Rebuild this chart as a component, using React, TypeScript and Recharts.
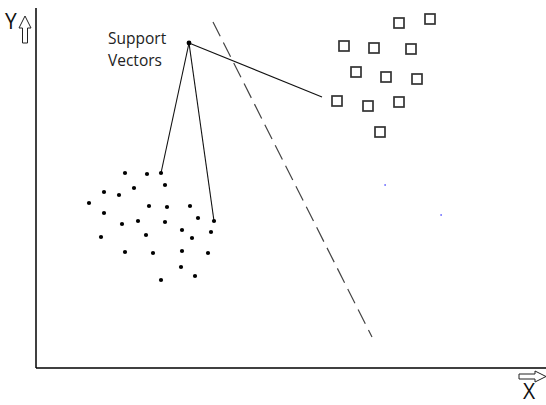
import React from 'react';
import {
  ScatterChart,
  Scatter,
  XAxis,
  YAxis,
  ReferenceLine,
} from 'recharts';

// class A (dots) – x, y in plot units (origin bottom-left)
const classA = [
  { x: 89, y: 195 }, { x: 111, y: 194 }, { x: 125, y: 195 },
  { x: 68, y: 176 }, { x: 83, y: 173 }, { x: 98, y: 180 }, { x: 129, y: 183 },
  { x: 53, y: 165 }, { x: 68, y: 155 }, { x: 113, y: 162 }, { x: 131, y: 161 },
  { x: 154, y: 162 }, { x: 162, y: 150 }, { x: 178, y: 147 },
  { x: 86, y: 144 }, { x: 102, y: 147 }, { x: 129, y: 146 },
  { x: 146, y: 138 }, { x: 156, y: 130 }, { x: 175, y: 136 },
  { x: 65, y: 131 }, { x: 110, y: 133 },
  { x: 89, y: 116 }, { x: 117, y: 115 }, { x: 146, y: 117 }, { x: 172, y: 115 },
  { x: 145, y: 101 }, { x: 159, y: 92 }, { x: 125, y: 88 },
];

// class B (squares)
const classB = [
  { x: 363, y: 345 }, { x: 394, y: 349 },
  { x: 308, y: 322 }, { x: 338, y: 320 }, { x: 375, y: 319 },
  { x: 320, y: 296 }, { x: 350, y: 291 }, { x: 381, y: 289 },
  { x: 301, y: 267 }, { x: 332, y: 262 }, { x: 363, y: 266 },
  { x: 344, y: 236 },
];

const strays = [{ x: 349, y: 183 }, { x: 405, y: 153 }];

// label point and the vectors it points to
const apex = { x: 153, y: 325 };
const supportTargets = [
  { x: 125, y: 195 },
  { x: 178, y: 147 },
  { x: 286, y: 271 },
];

const boundary = [{ x: 177, y: 346 }, { x: 336, y: 31 }];

const Dot = (props: any) => (
  <circle cx={props.cx} cy={props.cy} r={2.1} fill="#000" />
);

const Square = (props: any) => (
  <rect
    x={props.cx - 5}
    y={props.cy - 5}
    width={10}
    height={10}
    fill="#fff"
    stroke="#333"
    strokeWidth={1.7}
  />
);

const Speck = (props: any) => (
  <rect x={props.cx - 0.5} y={props.cy - 1} width={1.2} height={2} fill="#5a5aff" />
);

export default function App() {
  return (
    <div style={{ position: 'absolute', left: 0, top: 0 }}>
      <ScatterChart
        width={546}
        height={405}
        margin={{ top: 8, left: 36, right: 0, bottom: 37 }}
      >
        <XAxis type="number" dataKey="x" domain={[0, 510]} hide />
        <YAxis type="number" dataKey="y" domain={[0, 360]} hide />
        <ReferenceLine x={0} stroke="#000" strokeWidth={1.5} />
        <ReferenceLine y={0} stroke="#000" strokeWidth={1.5} />
        <ReferenceLine
          segment={boundary}
          stroke="#444"
          strokeWidth={1.2}
          strokeDasharray="16 7"
          ifOverflow="visible"
        />
        {supportTargets.map((t, i) => (
          <ReferenceLine
            key={i}
            segment={[apex, t]}
            stroke="#111"
            strokeWidth={1.1}
            ifOverflow="visible"
          />
        ))}
        <Scatter data={classA} shape={Dot} isAnimationActive={false} />
        <Scatter data={classB} shape={Square} isAnimationActive={false} />
        <Scatter data={strays} shape={Speck} isAnimationActive={false} />
        <Scatter
          data={[apex]}
          shape={(p: any) => <circle cx={p.cx} cy={p.cy} r={2.4} fill="#000" />}
          isAnimationActive={false}
        />
        <g fontFamily="'Open Sans', sans-serif">
          <text x={108} y={44} fontSize={15.5} fill="#222">Support</text>
          <text x={108} y={66} fontSize={15.5} fill="#222">Vectors</text>
          <text x={5} y={29} fontSize={21} fill="#111">Y</text>
          <text x={523} y={399} fontSize={21} fill="#111">X</text>
        </g>
        <polygon
          points="25,16 31,28 27.5,28 27.5,43 22.5,43 22.5,28 19,28"
          fill="#fff"
          stroke="#222"
          strokeWidth={1}
        />
        <polygon
          points="519,374 535,374 535,371 546,376.5 535,382 535,379 519,379"
          fill="#fff"
          stroke="#222"
          strokeWidth={1}
        />
      </ScatterChart>
    </div>
  );
}
